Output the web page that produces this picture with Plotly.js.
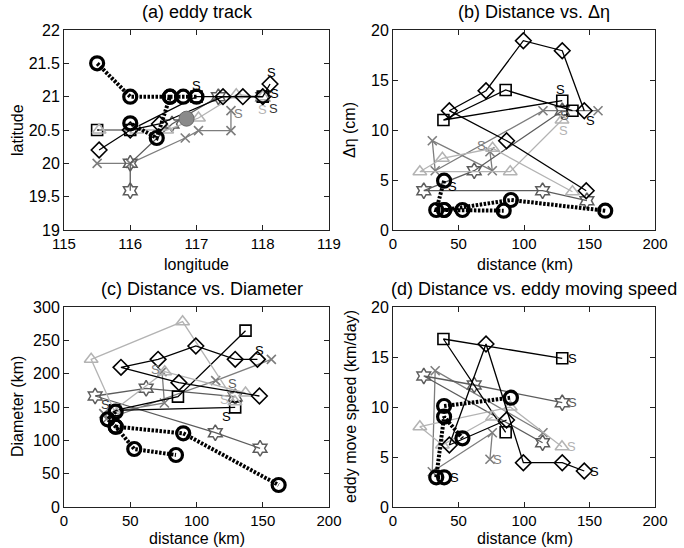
<!DOCTYPE html>
<html><head><meta charset="utf-8">
<script src="https://cdn.plot.ly/plotly-3.0.1.min.js"></script>
<style>html,body{margin:0;padding:0;background:#fff}#chart{width:684px;height:548px}</style>
</head><body><div id="chart"></div>
<script>
// ---------- Panel (a): eddy tracks (longitude / latitude) ----------
const circA_lon = [117.0, 116.8, 116.6, 116.4, 116.0];
const circA_lat = [21.0, 21.0, 21.0, 20.38, 20.6];
const circB_lon = [116.6, 116.0, 115.5];
const circB_lat = [21.0, 21.0, 21.5];
const diam_lon = [118.11, 118.0, 117.7, 117.4, 116.44, 116.0, 115.53];
const diam_lat = [21.19, 21.0, 21.0, 21.0, 20.59, 20.5, 20.2];
const sq_lon = [118.0, 117.0, 116.0, 115.5];
const sq_lat = [21.0, 21.0, 20.5, 20.5];
const x_lon = [117.52, 117.52, 117.03, 116.83, 116.0, 115.5];
const x_lat = [20.79, 20.49, 20.49, 20.38, 20.0, 20.0];
const hex_lon = [118.0, 117.33, 116.63, 116.0, 116.0];
const hex_lat = [21.0, 21.0, 20.59, 20.0, 19.59];
const tri_lon = [118.0, 117.6, 117.03, 116.55, 116.1, 115.53];
const tri_lat = [21.0, 21.03, 20.68, 20.5, 20.5, 20.5];
const ref_lon = [116.85];
const ref_lat = [20.67];

// ---------- distance from reference point (km) ----------
const circA_dist = [39, 33, 39, 53, 84.5];
const circB_dist = [39, 90, 162];
const diam_dist = [146, 129.2, 99.5, 71, 43, 86.7, 147.5];
const sq_dist = [129.2, 38.5, 86, 137];
const x_dist = [74, 75.8, 30, 32.2, 114.5, 156.5];
const hex_dist = [129.2, 62, 23.5, 114.2, 148];
const tri_dist = [129, 89.5, 20.5, 37.7, 76, 137];

// ---------- Panel (b): delta eta (cm) ----------
const circA_eta = [4.93, 2.0, 2.0, 2.0, 1.93];
const circB_eta = [2.0, 3.0, 1.93];
const diam_eta = [11.93, 17.93, 18.93, 13.93, 11.93, 8.93, 3.93];
const sq_eta = [12.93, 11.0, 14.0, 11.93];
const x_eta = [7.83, 5.93, 8.93, 5.93, 11.93, 11.93];
const hex_eta = [11.93, 5.93, 3.93, 3.93, 2.93];
const tri_eta = [11.0, 5.83, 5.83, 7.17, 8.17, 3.83];

// ---------- Panel (c): diameter (km) ----------
const circA_dia = [143, 131.5, 120.5, 87, 78];
const circB_dia = [120.5, 110.5, 33];
const diam_dia = [221.5, 221.5, 241.5, 221.5, 209.5, 186.5, 166.5];
const sq_dia = [149.5, 145, 165.5, 264.5];
const x_dia = [203, 156, 140, 132, 189.5, 221.5];
const hex_dia = [165.5, 178, 166.5, 111.5, 88];
const tri_dia = [158, 278, 221.5, 145, 203, 171];

// ---------- Panel (d): eddy moving speed (km/day) ----------
const circA_spd = [2.97, 2.97, 9.03, 6.87];
const circB_spd = [10.1, 10.93];
const diam_spd = [3.6, 4.43, 4.43, 16.3, 6.2, 8.7];
const sq_spd = [14.87, 16.8, 7.47];
const x_spd = [4.77, 7.43, 3.53, 13.63, 7.43];
const hex_spd = [10.43, 12.2, 13.1, 6.43];
const tri_spd = [6.03, 10.0, 8.03, 6.2, 9.0];

// ---------- tick labels ----------
const lonTicks = [115, 116, 117, 118, 119];
const latTicks = [19, 19.5, 20, 20.5, 21, 21.5, 22];
const distTicks = [0, 50, 100, 150, 200];
const etaTicks = [0, 5, 10, 15, 20];
const diaTicks = [0, 50, 100, 150, 200, 250, 300];
const spdTicks = [0, 5, 10, 15, 20];

// ---------- styles ----------
const ST = {
  tri: {color: '#b3b3b3', sym: 'triangle-up-open', size: 12, lw: 1.3, mw: 1.5},
  x:   {color: '#7d7d7d', sym: 'x-thin', size: 9, lw: 1.3, mw: 1.6},
  hex: {color: '#5c5c5c', sym: 'hexagram-open', size: 12, lw: 1.3, mw: 1.5},
  sq:  {color: '#000000', sym: 'square-open', size: 11, lw: 1.3, mw: 1.6},
  diam:{color: '#000000', sym: 'diamond-open', size: 12, lw: 1.3, mw: 1.6},
  circ:{color: '#000000', sym: 'circle-open', size: 13, lw: 4, mw: 3.2, dash: '2.5px,1.5px'}
};

function tr(xs, ys, key, ax) {
  const s = ST[key];
  return {
    type: 'scatter', mode: 'lines+markers', x: xs, y: ys,
    xaxis: 'x' + ax, yaxis: 'y' + ax, hoverinfo: 'skip',
    line: {color: s.color, width: s.lw, dash: s.dash || 'solid'},
    marker: {symbol: s.sym, size: s.size, color: s.color, line: {color: s.color, width: s.mw}}
  };
}
function head(a, n) { return a.slice(0, n); }

const data = [];
// order: bottom to top
function panel(ax, X, Y) {
  data.push(tr(X.x, Y.x, 'x', ax));
  data.push(tr(X.hex, Y.hex, 'hex', ax));
  data.push(tr(X.sq, Y.sq, 'sq', ax));
  data.push(tr(X.tri, Y.tri, 'tri', ax));
  data.push(tr(X.diam, Y.diam, 'diam', ax));
  data.push(tr(X.circB, Y.circB, 'circ', ax));
  data.push(tr(X.circA, Y.circA, 'circ', ax));
}
panel('', {x: x_lon, hex: hex_lon, sq: sq_lon, tri: tri_lon, diam: diam_lon, circA: circA_lon, circB: circB_lon},
          {x: x_lat, hex: hex_lat, sq: sq_lat, tri: tri_lat, diam: diam_lat, circA: circA_lat, circB: circB_lat});
data.push({type: 'scatter', mode: 'markers', x: ref_lon, y: ref_lat, xaxis: 'x', yaxis: 'y', hoverinfo: 'skip',
  marker: {symbol: 'circle', size: 15, color: '#8a8a8a', line: {color: '#6a6a6a', width: 1}}});
panel('2', {x: x_dist, hex: hex_dist, sq: sq_dist, tri: tri_dist, diam: diam_dist, circA: circA_dist, circB: circB_dist},
           {x: x_eta, hex: hex_eta, sq: sq_eta, tri: tri_eta, diam: diam_eta, circA: circA_eta, circB: circB_eta});
panel('3', {x: x_dist, hex: hex_dist, sq: sq_dist, tri: tri_dist, diam: diam_dist, circA: circA_dist, circB: circB_dist},
           {x: x_dia, hex: hex_dia, sq: sq_dia, tri: tri_dia, diam: diam_dia, circA: circA_dia, circB: circB_dia});
panel('4', {x: head(x_dist, x_spd.length), hex: head(hex_dist, hex_spd.length), sq: head(sq_dist, sq_spd.length),
            tri: head(tri_dist, tri_spd.length), diam: head(diam_dist, diam_spd.length),
            circA: head(circA_dist, circA_spd.length), circB: head(circB_dist, circB_spd.length)},
           {x: x_spd, hex: hex_spd, sq: sq_spd, tri: tri_spd, diam: diam_spd, circA: circA_spd, circB: circB_spd});

// ---------- axes ----------
const W = 684, H = 548;
const FONT = 'Liberation Sans, Arial, sans-serif';
function axis(d0, d1, range, ticks, anchor, isY) {
  const dom = isY ? [1 - d1 / H, 1 - d0 / H] : [d0 / W, d1 / W];
  return {domain: dom, range: range, tickvals: ticks, anchor: anchor, showline: true, linecolor: '#222',
    linewidth: 1, mirror: 'ticks', ticks: 'inside', ticklen: 5, tickcolor: '#222', showgrid: false,
    zeroline: false, fixedrange: true, tickfont: {family: FONT, size: isY ? 16 : 15, color: '#000'}};
}
const layout = {
  width: W, height: H, margin: {l: 0, r: 0, t: 0, b: 0}, showlegend: false,
  paper_bgcolor: '#fff', plot_bgcolor: '#fff',
  xaxis:  axis(64, 329, [115, 119], lonTicks, 'y', false),
  yaxis:  axis(30, 230, [19, 22], latTicks, 'x', true),
  xaxis2: axis(393, 655, [0, 200], distTicks, 'y2', false),
  yaxis2: axis(30, 230, [0, 20], etaTicks, 'x2', true),
  xaxis3: axis(64, 329, [0, 200], distTicks, 'y3', false),
  yaxis3: axis(307, 507, [0, 300], diaTicks, 'x3', true),
  xaxis4: axis(393, 655, [0, 200], distTicks, 'y4', false),
  yaxis4: axis(307, 507, [0, 20], spdTicks, 'x4', true),
  annotations: []
};

function ptxt(text, px, py, size, rot) {
  layout.annotations.push({text: text, xref: 'paper', yref: 'paper', x: px / W, y: 1 - py / H,
    xanchor: 'center', yanchor: 'middle', showarrow: false, textangle: rot || 0,
    font: {family: FONT, size: size, color: '#000'}});
}
ptxt('(a) eddy track', 197, 12, 18);
ptxt('(b) Distance vs. Δη', 534, 12, 18);
ptxt('(c) Distance vs. Diameter', 202, 289, 18);
ptxt('(d) Distance vs. eddy moving speed', 534, 289, 18);
ptxt('longitude', 196, 265, 16);
ptxt('distance (km)', 525, 265, 16);
ptxt('distance (km)', 197, 538, 16);
ptxt('distance (km)', 525, 538, 16);
ptxt('latitude', 17, 130, 16, -90);
ptxt('Δη (cm)', 349, 130, 16, -90);
ptxt('Diameter (km)', 17, 407, 16, -90);
ptxt('eddy move speed (km/day)', 350, 407, 16, -90);

// "S" start labels, anchored to each track's first point
function S(ax, x, y, dx, dy, color) {
  layout.annotations.push({text: 'S', xref: 'x' + ax, yref: 'y' + ax, x: x, y: y, xshift: dx, yshift: dy,
    xanchor: 'center', yanchor: 'middle', showarrow: false, font: {family: FONT, size: 13, color: color}});
}
// (a)
S('', circA_lon[0], circA_lat[0], 0, 11, '#000');
S('', diam_lon[0], diam_lat[0], 1, 12, '#000');
S('', sq_lon[0], sq_lat[0], 12, 3, '#000');
S('', hex_lon[0], hex_lat[0], 11, -12, '#333');
S('', tri_lon[0], tri_lat[0], 0, -13, '#b3b3b3');
S('', x_lon[0], x_lat[0], 8, -3, '#7d7d7d');
// (b)
S('2', diam_dist[0], diam_eta[0], 6, -10, '#000');
S('2', sq_dist[0], sq_eta[0], -2, 11, '#000');
S('2', hex_dist[0], hex_eta[0], 2, -5, '#5c5c5c');
S('2', tri_dist[0], tri_eta[0], 2, -10, '#b3b3b3');
S('2', x_dist[0], x_eta[0], -8, 6, '#7d7d7d');
S('2', circA_dist[0], circA_eta[0], 8, -6, '#000');
// (c)
S('3', diam_dist[0], diam_dia[0], 2, 9, '#000');
S('3', sq_dist[0], sq_dia[0], -9, -9, '#000');
S('3', hex_dist[0], hex_dia[0], -3, 13, '#5c5c5c');
S('3', tri_dist[0], tri_dia[0], -10, 2, '#b3b3b3');
S('3', x_dist[0], x_dia[0], -7, 2, '#7d7d7d');
S('3', circA_dist[0], circA_dia[0], -10, 7, '#333');
// (d)
S('4', diam_dist[0], diam_spd[0], 10, 0, '#000');
S('4', sq_dist[0], sq_spd[0], 10, 0, '#000');
S('4', hex_dist[0], hex_spd[0], 10, 0, '#5c5c5c');
S('4', tri_dist[0], tri_spd[0], 10, 0, '#b3b3b3');
S('4', x_dist[0], x_spd[0], 8, 0, '#7d7d7d');
S('4', circA_dist[0], circA_spd[0], 10, 0, '#000');

Plotly.newPlot('chart', data, layout, {staticPlot: true, displayModeBar: false});
</script></body></html>
